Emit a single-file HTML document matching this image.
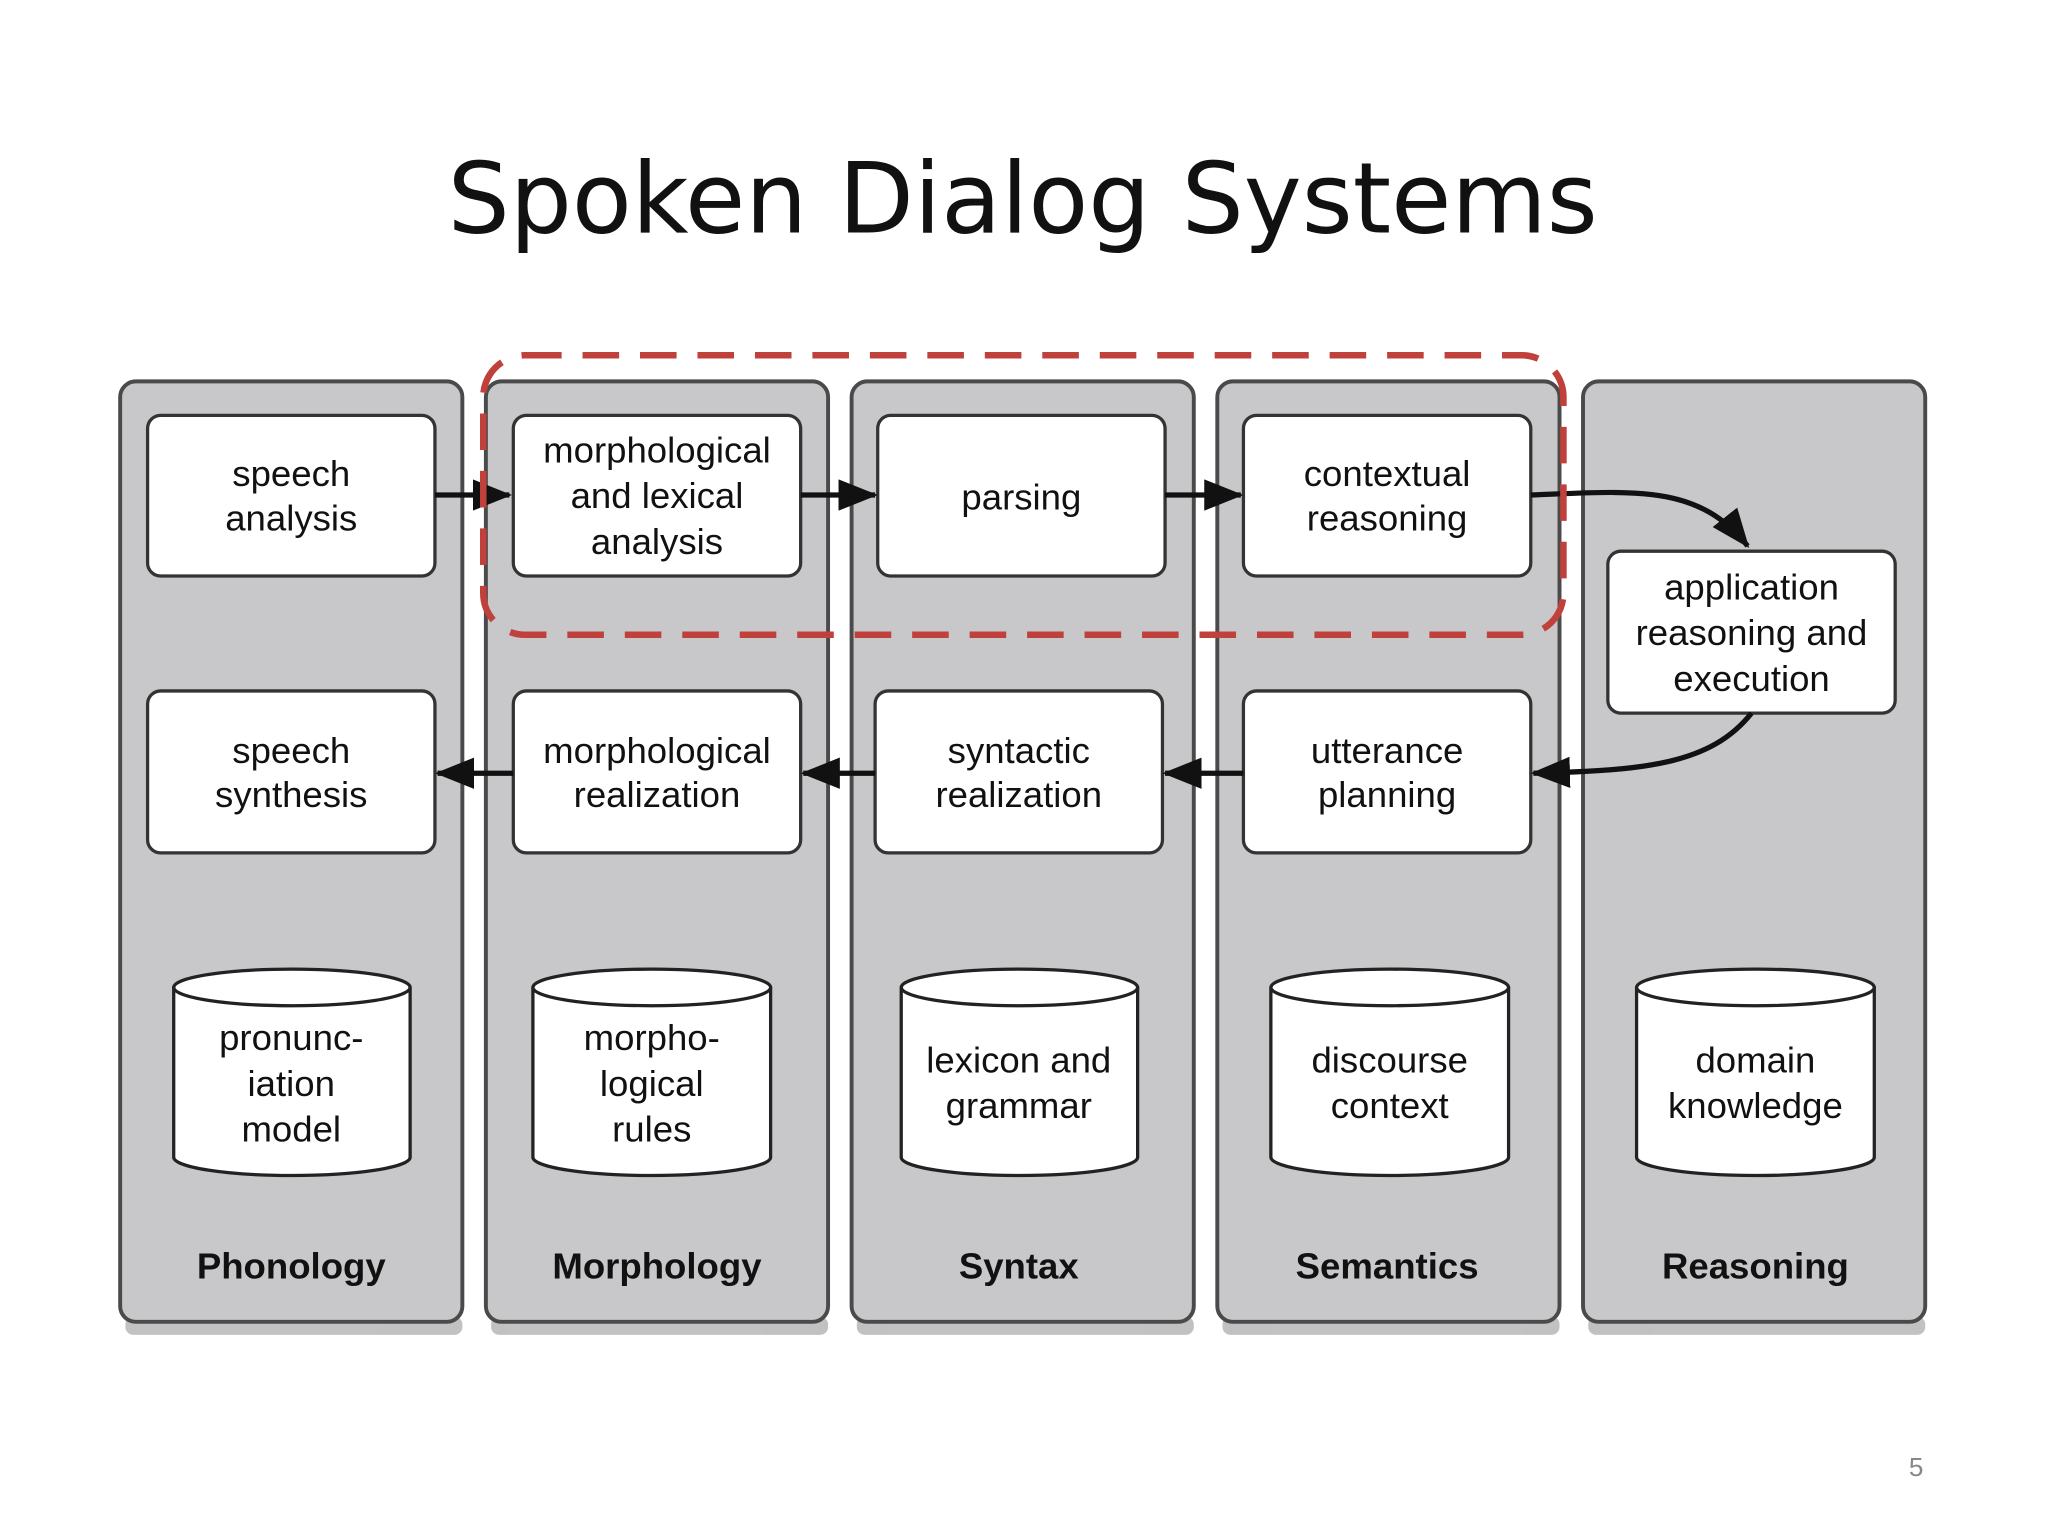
<!DOCTYPE html>
<html><head><meta charset="utf-8"><style>
html,body{margin:0;padding:0;background:#fff;width:2048px;height:1536px;overflow:hidden}
svg{display:block}
text{font-family:"Liberation Sans",Arial,sans-serif;fill:#111}
</style></head><body>
<svg width="2048" height="1536" viewBox="0 0 1568 1176" xmlns="http://www.w3.org/2000/svg">
<defs>
<marker id="a2" markerWidth="30" markerHeight="24" refX="28" refY="12" orient="auto" markerUnits="userSpaceOnUse">
<path d="M0,0 L30,12 L0,24 z" fill="#111"/></marker>
</defs>
<text x="783" y="178" text-anchor="middle" font-size="75" style="font-family:'DejaVu Sans','Liberation Sans',sans-serif" fill="#111">Spoken Dialog Systems</text>

<g fill="#999" opacity="0.6">
<rect x="96" y="1008" width="258" height="14" rx="6"/><rect x="376" y="1008" width="258" height="14" rx="6"/><rect x="656" y="1008" width="258" height="14" rx="6"/><rect x="936" y="1008" width="258" height="14" rx="6"/><rect x="1216" y="1008" width="258" height="14" rx="6"/>
</g>
<g stroke="#4a4a4a" stroke-width="3" fill="#c8c8ca">
<rect x="92" y="292" width="262" height="720" rx="12"/>
<rect x="372" y="292" width="262" height="720" rx="12"/>
<rect x="652" y="292" width="262" height="720" rx="12"/>
<rect x="932" y="292" width="262" height="720" rx="12"/>
<rect x="1212" y="292" width="262" height="720" rx="12"/>
</g>

<g stroke="#333" stroke-width="2.5" fill="#fff">
<rect x="113" y="318" width="220" height="123" rx="10"/>
<rect x="393" y="318" width="220" height="123" rx="10"/>
<rect x="672" y="318" width="220" height="123" rx="10"/>
<rect x="952" y="318" width="220" height="123" rx="10"/>
<rect x="1231" y="422" width="220" height="124" rx="10"/>
<rect x="113" y="529" width="220" height="124" rx="10"/>
<rect x="393" y="529" width="220" height="124" rx="10"/>
<rect x="670" y="529" width="220" height="124" rx="10"/>
<rect x="952" y="529" width="220" height="124" rx="10"/>
</g>

<g stroke="#222" stroke-width="2.5" fill="#fff">
<path d="M133,756 V886 A90.5,14 0 0 0 314,886 V756"/><ellipse cx="223.5" cy="756" rx="90.5" ry="14"/>
<path d="M408,756 V886 A91,14 0 0 0 590,886 V756"/><ellipse cx="499" cy="756" rx="91" ry="14"/>
<path d="M690,756 V886 A90.5,14 0 0 0 871,886 V756"/><ellipse cx="780.5" cy="756" rx="90.5" ry="14"/>
<path d="M973,756 V886 A91,14 0 0 0 1155,886 V756"/><ellipse cx="1064" cy="756" rx="91" ry="14"/>
<path d="M1253,756 V886 A91,14 0 0 0 1435,886 V756"/><ellipse cx="1344" cy="756" rx="91" ry="14"/>
</g>

<g font-size="28" text-anchor="middle">
<text x="223" y="372">speech</text><text x="223" y="406">analysis</text>
<text x="503" y="354">morphological</text><text x="503" y="389">and lexical</text><text x="503" y="424">analysis</text>
<text x="782" y="390">parsing</text>
<text x="1062" y="372">contextual</text><text x="1062" y="406">reasoning</text>
<text x="1341" y="459">application</text><text x="1341" y="494">reasoning and</text><text x="1341" y="529">execution</text>
<text x="223" y="584">speech</text><text x="223" y="618">synthesis</text>
<text x="503" y="584">morphological</text><text x="503" y="618">realization</text>
<text x="780" y="584">syntactic</text><text x="780" y="618">realization</text>
<text x="1062" y="584">utterance</text><text x="1062" y="618">planning</text>
<text x="223" y="804">pronunc-</text><text x="223" y="839">iation</text><text x="223" y="874">model</text>
<text x="499" y="804">morpho-</text><text x="499" y="839">logical</text><text x="499" y="874">rules</text>
<text x="780" y="821">lexicon and</text><text x="780" y="856">grammar</text>
<text x="1064" y="821">discourse</text><text x="1064" y="856">context</text>
<text x="1344" y="821">domain</text><text x="1344" y="856">knowledge</text>
</g>
<g font-size="28" font-weight="bold" text-anchor="middle">
<text x="223" y="979">Phonology</text><text x="503" y="979">Morphology</text><text x="780" y="979">Syntax</text><text x="1062" y="979">Semantics</text><text x="1344" y="979">Reasoning</text>
</g>

<g stroke="#111" stroke-width="4" fill="none" marker-end="url(#a2)">
<line x1="333" y1="379" x2="390" y2="379"/>
<line x1="613" y1="379" x2="670" y2="379"/>
<line x1="892" y1="379" x2="950" y2="379"/>
<path d="M1172,379 C1250,376 1300,370 1338,418"/>
<path d="M1341,546 C1310,585 1260,590 1174,592"/>
<line x1="952" y1="592" x2="892" y2="592"/>
<line x1="670" y1="592" x2="615" y2="592"/>
<line x1="393" y1="592" x2="335" y2="592"/>
</g>

<rect x="370" y="272" width="827" height="214" rx="32" fill="none" stroke="#c0403c" stroke-width="5" stroke-dasharray="28 16"/>

<text x="1467" y="1130" font-size="20" text-anchor="middle" style="fill:#888">5</text>
</svg>
</body></html>
